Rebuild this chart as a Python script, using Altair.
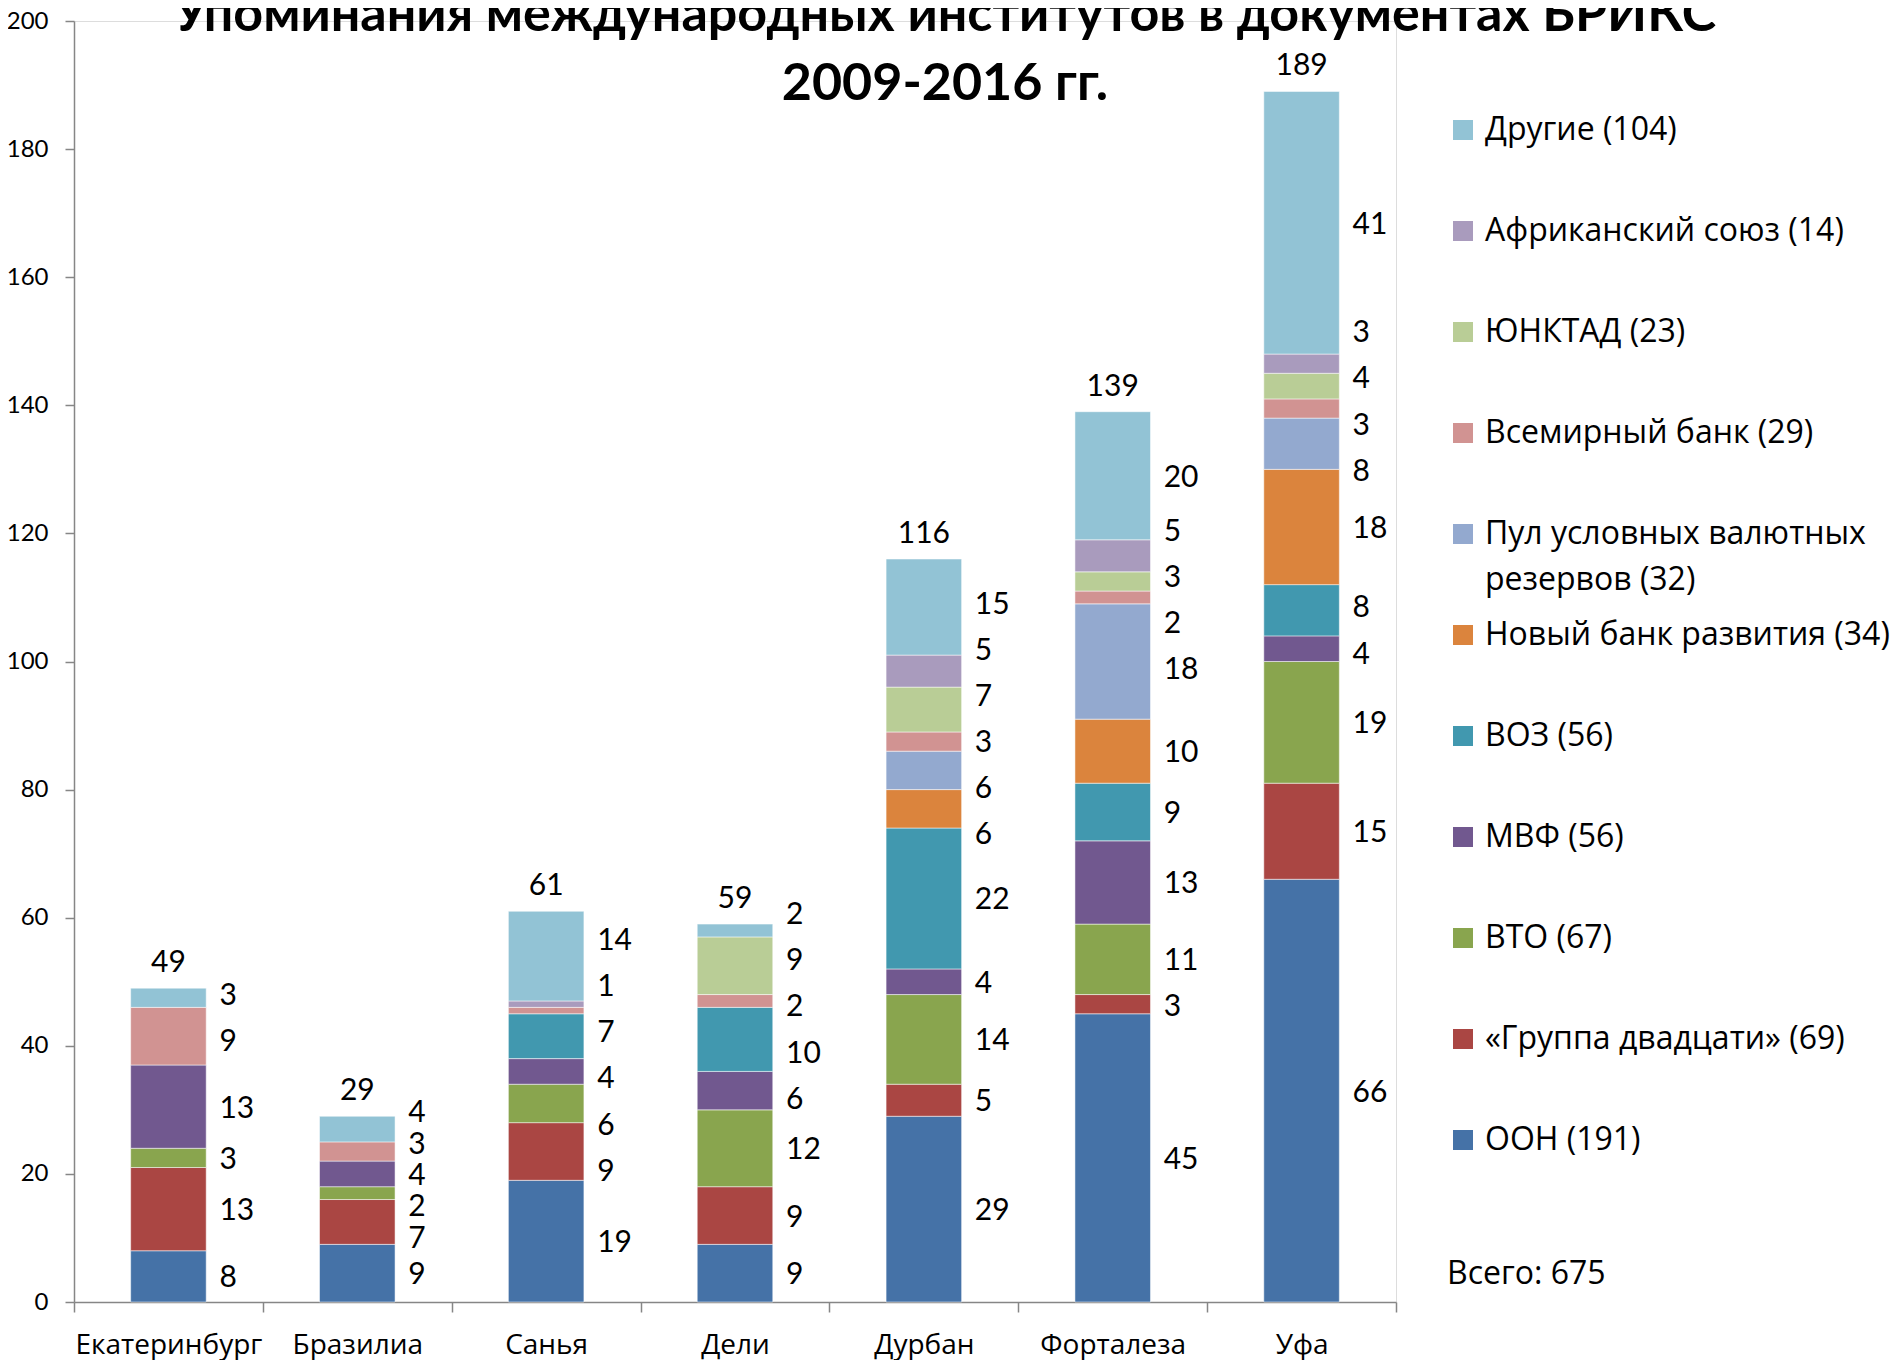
import altair as alt
import pandas as pd
import numpy as np

# ---------------- data ----------------
cities = ["Екатеринбург", "Бразилиа", "Санья", "Дели", "Дурбан", "Форталеза", "Уфа"]

series_names = ["ООН", "«Группа двадцати»", "ВТО", "МВФ", "ВОЗ", "Новый банк развития",
                "Пул условных валютных резервов", "Всемирный банк", "ЮНКТАД",
                "Африканский союз", "Другие"]
legend_counts = [191, 69, 67, 56, 56, 34, 32, 29, 23, 14, 104]
legend_labels = ["ООН (191)", "«Группа двадцати» (69)", "ВТО (67)", "МВФ (56)", "ВОЗ (56)",
                 "Новый банк развития (34)", "Пул условных валютных\nрезервов (32)",
                 "Всемирный банк (29)", "ЮНКТАД (23)", "Африканский союз (14)", "Другие (104)"]

oon = [8, 9, 19, 9, 29, 45, 66]
g20 = [13, 7, 9, 9, 5, 3, 15]
wto = [3, 2, 6, 12, 14, 11, 19]
imf = [13, 4, 4, 6, 4, 13, 4]
who = [0, 0, 7, 10, 22, 9, 8]
ndb = [0, 0, 0, 0, 6, 10, 18]
cra = [0, 0, 0, 0, 6, 18, 8]
wb = [9, 3, 1, 2, 3, 2, 3]
unctad = [0, 0, 0, 9, 7, 3, 4]
au = [0, 0, 1, 0, 5, 5, 3]
other = [3, 4, 14, 2, 15, 20, 41]
series_values = [oon, g20, wto, imf, who, ndb, cra, wb, unctad, au, other]

colors = ["#4572A7", "#AA4643", "#89A54E", "#71588F", "#4198AF", "#DB843D",
          "#93A9CF", "#D19392", "#B9CD96", "#A99BBD", "#92C3D5"]

title_lines = ["Упоминания международных институтов в документах БРИКС", "2009-2016 гг."]
total_text = "Всего: 675"
y_ticks = list(range(0, 201, 20))

# ------------- derived tables -------------
LABEL_GAP = 7.2  # preferred minimum spacing between value labels (data units)


def spread(mids, gap):
    """Least-squares placement with a minimum gap (pool adjacent violators)."""
    q = [m - i * gap for i, m in enumerate(mids)]
    blocks = []  # [sum, count]
    for v in q:
        blocks.append([v, 1])
        while len(blocks) > 1 and blocks[-2][0] / blocks[-2][1] > blocks[-1][0] / blocks[-1][1]:
            s, c = blocks.pop()
            blocks[-1][0] += s
            blocks[-1][1] += c
    out = []
    for s, c in blocks:
        out += [s / c] * c
    return [v + i * gap for i, v in enumerate(out)]


bar_rows, label_rows, total_rows = [], [], []
for ci, city in enumerate(cities):
    base = 0
    segs = []  # (start, end, value) of labelled segments
    for si in range(len(series_names)):
        v = series_values[si][ci]
        if v > 0:
            bar_rows.append({"city": city, "series": legend_labels[si], "y0": base, "y1": base + v})
            # adjacent hairline segments with the same value share one label
            if segs and v < 2 and segs[-1][2] == v and segs[-1][1] == base:
                segs[-1] = (segs[-1][0], base + v, v)
            else:
                segs.append((base, base + v, v))
        base += v
    mids = [(a + b) / 2 for a, b, _ in segs]
    vals = [v for _, _, v in segs]
    gap = min(LABEL_GAP, (base - mids[0]) / max(1, len(mids) - 1))
    for pos, v in zip(spread(mids, gap), vals):
        label_rows.append({"city": city, "ypos": pos, "value": v})
    total_rows.append({"city": city, "total": base})

df_bars = pd.DataFrame(bar_rows)
df_labels = pd.DataFrame(label_rows)
df_tot = pd.DataFrame(total_rows)

legend_domain = legend_labels[::-1]
legend_range = colors[::-1]

# ------------- chart -------------
x_enc = alt.X("city:N", sort=cities,
              scale=alt.Scale(paddingInner=0, paddingOuter=0),
              axis=alt.Axis(title=None, labelAngle=0, tickBand="extent", tickSize=10,
                            tickColor="#868686", domainColor="#868686", domainWidth=1.5,
                            tickWidth=1.5, labelFont="Open Sans", labelFontSize=28,
                            labelLimit=400, labelColor="black", labelPadding=19))

y_scale = alt.Scale(domain=[0, 200], nice=False)

bars = alt.Chart(df_bars).mark_bar(
    width=alt.RelativeBandSize(0.4), stroke="white", strokeWidth=1, strokeOpacity=0.5
).encode(
    x=x_enc,
    y=alt.Y("y0:Q", scale=y_scale,
            axis=alt.Axis(title=None, values=y_ticks, grid=False, tickSize=9,
                          tickColor="#868686", domainColor="#868686", domainWidth=1.5,
                          tickWidth=1.5, labelFont="Lato", labelFontSize=24,
                          labelColor="black", labelPadding=17)),
    y2="y1:Q",
    color=alt.Color("series:N",
                    scale=alt.Scale(domain=legend_domain, range=legend_range),
                    legend=alt.Legend(title=total_text, titleOrient="bottom", titleAnchor="start",
                                      titleFont="Open Sans", titleFontSize=32,
                                      titleFontWeight="normal", titleColor="black",
                                      titlePadding=103,
                                      labelFont="Open Sans", labelFontSize=32,
                                      labelColor="black", labelLimit=700, labelOffset=6,
                                      symbolType="square", symbolSize=400,
                                      symbolStrokeWidth=0, symbolOpacity=1,
                                      orient="none", legendX=1373, legendY=93,
                                      rowPadding=23, gridAlign="all", padding=0,
                                      direction="vertical")),
)

seg_labels = alt.Chart(df_labels).mark_text(
    align="left", baseline="middle", dx=51, dy=2, font="Lato", fontSize=30, color="black"
).encode(
    x=alt.X("city:N", sort=cities),
    y=alt.Y("ypos:Q", scale=y_scale),
    text=alt.Text("value:Q"),
)

totals = alt.Chart(df_tot).mark_text(
    align="center", baseline="middle", dy=-25, font="Lato", fontSize=30, color="black"
).encode(
    x=alt.X("city:N", sort=cities),
    y=alt.Y("total:Q", scale=y_scale),
    text=alt.Text("total:Q"),
)

chart = alt.layer(bars, seg_labels, totals).properties(
    width=1322,
    height=1281,
    title=alt.TitleParams(text=title_lines, font="Lato", fontSize=52, fontWeight="bold",
                          color="black", lineHeight=69, anchor="middle", dx=210, offset=-102),
    autosize=alt.AutoSizeParams(type="none"),
    padding={"left": 66, "top": 13, "right": 495, "bottom": 80},
    background="white",
).configure_view(stroke=None).configure(
    style={"guide-label": {"lineHeight": 46, "lineBreak": "\n"}}
)

chart.save("out.html", embed_options={"renderer": "svg", "actions": False})
